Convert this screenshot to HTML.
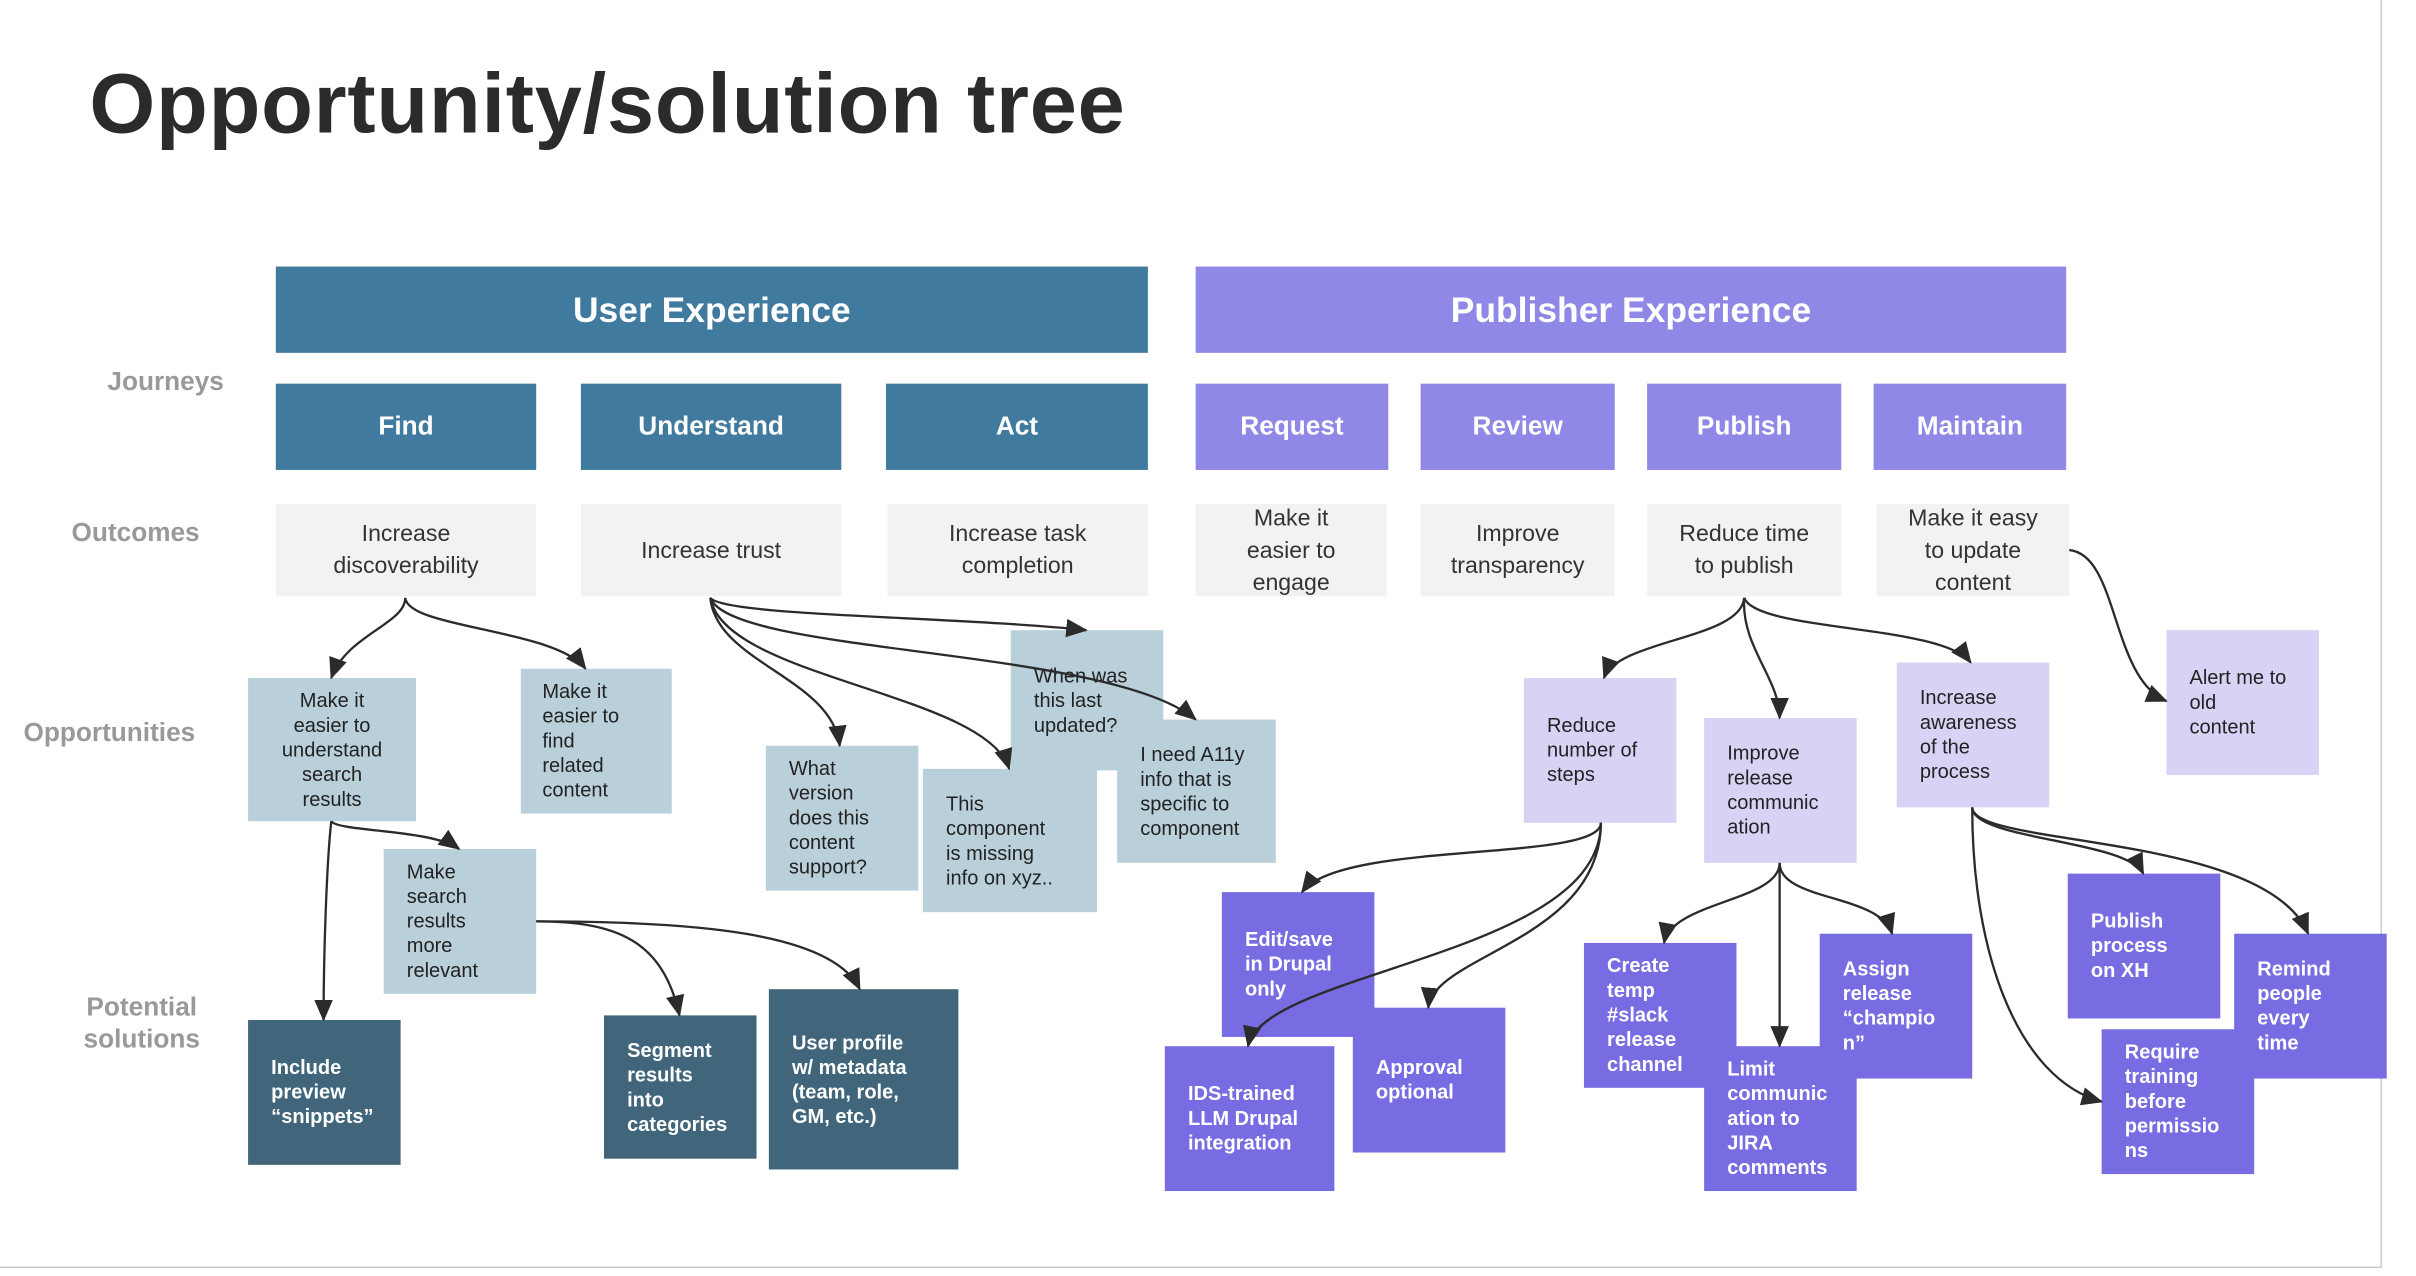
<!DOCTYPE html>
<html><head><meta charset="utf-8"><style>
html,body{margin:0;padding:0;background:#fff;}
body{width:2416px;height:1276px;overflow:hidden;position:relative;}
#w{position:absolute;left:0;top:0;width:1568px;height:828px;transform:scale(1.5408);transform-origin:0 0;font-family:"Liberation Sans",sans-serif;}
.b{position:absolute;box-sizing:border-box;display:flex;align-items:center;}
.h{justify-content:center;color:#fff;font-weight:bold;}
.ub{background:#417a9f;}
.pb{background:#8f88e6;}
.oc{background:#f2f2f2;color:#333;font-size:15px;line-height:21px;text-align:center;justify-content:center;}
.op{background:#b9d0db;color:#222;font-size:13px;line-height:16px;padding-left:11px;}
.lp{background:#d6d3f5;color:#222;font-size:13px;line-height:16px;padding-left:15px;}
.sd{background:#41667b;color:#fff;font-weight:bold;font-size:13px;line-height:16px;padding-left:15px;}
.sp{background:#786ce3;color:#fff;font-weight:bold;font-size:13px;line-height:16px;padding-left:15px;}
.lb{position:absolute;color:#999;font-weight:bold;font-size:17px;text-align:center;line-height:21px;}
</style></head><body><div id="w">
<div style="position:absolute;left:58px;top:35px;font-size:55px;font-weight:bold;color:#2b2b2b;letter-spacing:0.5px;">Opportunity/solution tree</div>
<div style="position:absolute;left:1545px;top:0;width:1px;height:823px;background:#ccc"></div>
<div style="position:absolute;left:0;top:822px;width:1546px;height:1px;background:#ccc"></div>

<div class="lb" style="left:60px;top:237px;width:95px">Journeys</div>
<div class="lb" style="left:38px;top:335px;width:100px">Outcomes</div>
<div class="lb" style="left:6px;top:465px;width:130px">Opportunities</div>
<div class="lb" style="left:42px;top:643px;width:100px">Potential<br>solutions</div>

<div class="b h ub" style="left:179px;top:173px;width:566px;height:56px;font-size:23px">User Experience</div>
<div class="b h pb" style="left:776px;top:173px;width:565px;height:56px;font-size:23px">Publisher Experience</div>

<div class="b h ub" style="left:179px;top:249px;width:169px;height:56px;font-size:17px">Find</div>
<div class="b h ub" style="left:377px;top:249px;width:169px;height:56px;font-size:17px">Understand</div>
<div class="b h ub" style="left:575px;top:249px;width:170px;height:56px;font-size:17px">Act</div>
<div class="b h pb" style="left:776px;top:249px;width:125px;height:56px;font-size:17px">Request</div>
<div class="b h pb" style="left:922px;top:249px;width:126px;height:56px;font-size:17px">Review</div>
<div class="b h pb" style="left:1069px;top:249px;width:126px;height:56px;font-size:17px">Publish</div>
<div class="b h pb" style="left:1216px;top:249px;width:125px;height:56px;font-size:17px">Maintain</div>

<div class="b oc" style="left:179px;top:327px;width:169px;height:60px">Increase<br>discoverability</div>
<div class="b oc" style="left:377px;top:327px;width:169px;height:60px">Increase trust</div>
<div class="b oc" style="left:576px;top:327px;width:169px;height:60px">Increase task<br>completion</div>
<div class="b oc" style="left:776px;top:327px;width:124px;height:60px">Make it<br>easier to<br>engage</div>
<div class="b oc" style="left:922px;top:327px;width:126px;height:60px">Improve<br>transparency</div>
<div class="b oc" style="left:1069px;top:327px;width:126px;height:60px">Reduce time<br>to publish</div>
<div class="b oc" style="left:1218px;top:327px;width:125px;height:60px">Make it easy<br>to update<br>content</div>

<div class="b op" style="left:161px;top:440px;width:109px;height:93px;justify-content:center;text-align:center;padding:0">Make it<br>easier to<br>understand<br>search<br>results</div>
<div class="b op" style="left:338px;top:434px;width:98px;height:94px;padding-left:14px">Make it<br>easier to<br>find<br>related<br>content</div>
<div class="b op" style="left:249px;top:551px;width:99px;height:94px;padding-left:15px">Make<br>search<br>results<br>more<br>relevant</div>
<div class="b op" style="left:497px;top:484px;width:99px;height:94px;padding-left:15px">What<br>version<br>does this<br>content<br>support?</div>
<div class="b op" style="left:656px;top:409px;width:99px;height:91px;padding-left:15px">When was<br>this last<br>updated?</div>
<div class="b op" style="left:599px;top:499px;width:113px;height:93px;padding-left:15px">This<br>component<br>is missing<br>info on xyz..</div>
<div class="b op" style="left:725px;top:467px;width:103px;height:93px;padding-left:15px">I need A11y<br>info that is<br>specific to<br>component</div>

<div class="b lp" style="left:989px;top:440px;width:99px;height:94px">Reduce<br>number of<br>steps</div>
<div class="b lp" style="left:1106px;top:466px;width:99px;height:94px">Improve<br>release<br>communic<br>ation</div>
<div class="b lp" style="left:1231px;top:430px;width:99px;height:94px">Increase<br>awareness<br>of the<br>process</div>
<div class="b lp" style="left:1406px;top:409px;width:99px;height:94px">Alert me to<br>old<br>content</div>

<div class="b sd" style="left:161px;top:662px;width:99px;height:94px">Include<br>preview<br>“snippets”</div>
<div class="b sd" style="left:392px;top:659px;width:99px;height:93px">Segment<br>results<br>into<br>categories</div>
<div class="b sd" style="left:499px;top:642px;width:123px;height:117px">User profile<br>w/ metadata<br>(team, role,<br>GM, etc.)</div>

<div class="b sp" style="left:793px;top:579px;width:99px;height:94px">Edit/save<br>in Drupal<br>only</div>
<div class="b sp" style="left:878px;top:654px;width:99px;height:94px">Approval<br>optional</div>
<div class="b sp" style="left:756px;top:679px;width:110px;height:94px">IDS-trained<br>LLM Drupal<br>integration</div>
<div class="b sp" style="left:1028px;top:612px;width:99px;height:94px">Create<br>temp<br>#slack<br>release<br>channel</div>
<div class="b sp" style="left:1106px;top:679px;width:99px;height:94px">Limit<br>communic<br>ation to<br>JIRA<br>comments</div>
<div class="b sp" style="left:1181px;top:606px;width:99px;height:94px">Assign<br>release<br>“champio<br>n”</div>
<div class="b sp" style="left:1342px;top:567px;width:99px;height:94px">Publish<br>process<br>on XH</div>
<div class="b sp" style="left:1450px;top:606px;width:99px;height:94px">Remind<br>people<br>every<br>time</div>
<div class="b sp" style="left:1364px;top:668px;width:99px;height:94px">Require<br>training<br>before<br>permissio<br>ns</div>

<svg style="position:absolute;left:0;top:0" width="1568" height="828" viewBox="0 0 1568 828">
<defs><marker id="a" markerUnits="userSpaceOnUse" markerWidth="14" markerHeight="12" refX="13" refY="6" orient="auto"><path d="M0,0 L14,6 L0,12 Z" fill="#2b2b2b"/></marker></defs>
<g fill="none" stroke="#2b2b2b" stroke-width="1.5" marker-end="url(#a)">
<path d="M263,388 C263,405 225,412 215,440"/>
<path d="M263,388 C265,408 360,408 380,434"/>
<path d="M215,533 C212,560 210,620 210,662"/>
<path d="M215,533 C220,540 280,538 298,551"/>
<path d="M348,598 C400,598 430,610 441,659"/>
<path d="M348,598 C450,598 540,605 558,642"/>
<path d="M461,388 C465,430 540,440 545,484"/>
<path d="M461,388 C470,440 640,450 655,499"/>
<path d="M461,388 C470,400 620,400 705,409"/>
<path d="M461,388 C475,425 720,420 776,467"/>
<path d="M1132,388 C1130,415 1050,415 1041,440"/>
<path d="M1132,388 C1130,420 1155,440 1155,466"/>
<path d="M1132,388 C1140,410 1260,405 1279,430"/>
<path d="M1343,357 C1375,360 1370,440 1406,455"/>
<path d="M1039,534 C1039,560 870,545 845,579"/>
<path d="M1039,534 C1039,620 820,630 810,679"/>
<path d="M1039,534 C1039,610 930,620 927,654"/>
<path d="M1155,560 C1155,585 1085,585 1080,612"/>
<path d="M1155,560 L1155,679"/>
<path d="M1155,560 C1155,585 1220,580 1228,606"/>
<path d="M1280,524 C1280,545 1380,545 1391,567"/>
<path d="M1280,524 C1280,550 1470,540 1498,606"/>
<path d="M1280,524 C1280,620 1310,700 1364,715"/>
</g></svg>
</div></body></html>
